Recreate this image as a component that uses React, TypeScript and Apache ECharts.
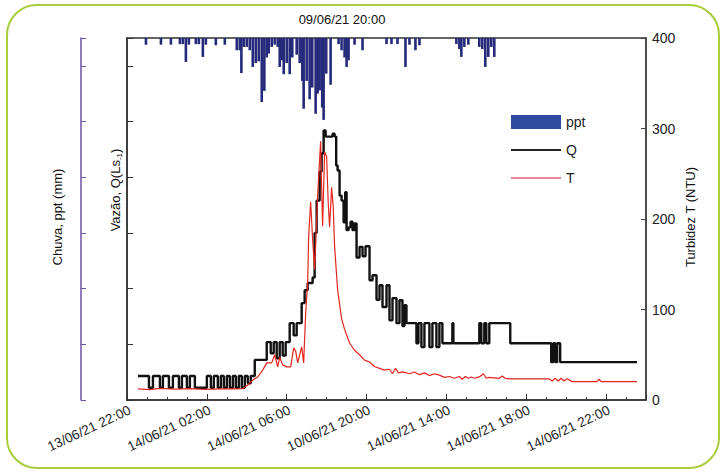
import React, { useEffect, useRef } from "react";
import * as echarts from "echarts";

const FONT = '"Liberation Sans", Arial, sans-serif';

// Hours since 13/06/21 22:00; major ticks every 4 h
const xTickLabels = [
  "13/06/21 22:00",
  "14/06/21 02:00",
  "14/06/21 06:00",
  "10/06/21 20:00",
  "14/06/21 14:00",
  "14/06/21 18:00",
  "14/06/21 22:00",
];

const turbidityTicks = [0, 100, 200, 300, 400];

// Rainfall (mm) per interval: [hour, ppt]
const pptData: [number, number][] = [
  [0.95, 0.12], [1.7, 0.12], [2.2, 0.12], [2.65, 0.11], [2.8, 0.11], [2.95, 0.43], [3.1, 0.12],
  [3.45, 0.11], [3.6, 0.11], [3.8, 0.34], [3.95, 0.12], [4.45, 0.13], [4.9, 0.12],
  [5.5, 0.22], [5.65, 0.22], [5.73, 0.63], [5.85, 0.16], [6.0, 0.16], [6.15, 0.22], [6.3, 0.52],
  [6.45, 0.45], [6.6, 0.42], [6.75, 1.15], [6.88, 0.95], [7.0, 0.35], [7.1, 0.28], [7.25, 0.16],
  [7.4, 0.12], [7.55, 0.16], [7.65, 0.52], [7.75, 0.4], [7.85, 0.65], [8.0, 0.45], [8.15, 0.65], [8.28, 0.35],
  [8.5, 0.3], [8.65, 0.45], [8.78, 0.77], [8.85, 1.27], [9.0, 0.77], [9.15, 1.1], [9.28, 0.89],
  [9.45, 1.36], [9.55, 1.0], [9.65, 0.94], [9.78, 1.25], [9.85, 1.47], [9.98, 0.64], [10.2, 0.84],
  [10.6, 0.11], [10.75, 0.22], [10.9, 0.35], [11.0, 0.52], [11.1, 0.4], [11.4, 0.12], [11.8, 0.22],
  [13.0, 0.11], [13.25, 0.11], [13.55, 0.11], [13.95, 0.52], [14.15, 0.12], [14.45, 0.22], [14.65, 0.13],
  [16.5, 0.11], [16.65, 0.2], [16.75, 0.34], [16.9, 0.16], [17.1, 0.12],
  [17.65, 0.16], [17.8, 0.2], [17.95, 0.52], [18.1, 0.34], [18.25, 0.16], [18.4, 0.34],
];

// Discharge Q: [hour, value] (stepped readings)
const qData: [number, number][] = [
  [0.55, 4.3], [1.1, 2.2], [1.3, 4.3], [1.65, 2.2], [1.8, 4.3], [2.1, 2.2], [2.3, 4.3], [2.6, 2.2],
  [2.75, 4.3], [3.0, 2.2], [3.15, 4.3], [3.4, 2.2], [4.0, 4.3], [4.2, 2.2], [4.35, 4.3], [4.55, 2.2],
  [4.7, 4.3], [4.85, 2.2], [5.0, 4.3], [5.15, 2.2], [5.3, 4.3], [5.45, 2.2], [5.6, 4.3], [5.75, 2.2],
  [5.9, 4.3], [6.05, 3.0], [6.2, 4.3], [6.4, 7.2], [7.0, 10.4], [7.2, 8.4], [7.35, 10.4], [7.5, 7.5],
  [7.65, 10.4], [7.8, 8.0], [7.95, 10.4], [8.15, 13.8], [8.35, 11.6], [8.5, 13.8], [8.75, 17.4],
  [8.9, 19.7], [9.05, 21.0], [9.3, 22.0], [9.4, 30.0], [9.5, 35.8], [9.65, 41.0], [9.75, 44.3],
  [9.85, 48.4], [9.95, 47.3], [10.3, 47.8], [10.4, 47.3], [10.48, 42.1], [10.55, 41.2], [10.65, 36.7],
  [10.75, 35.8], [10.85, 31.9], [10.93, 37.3], [11.0, 30.5], [11.1, 31.0], [11.2, 32.0], [11.3, 30.5],
  [11.4, 31.7], [11.5, 25.6], [11.65, 27.5], [11.8, 25.8], [11.95, 27.6], [12.15, 21.5], [12.3, 22.4],
  [12.5, 18.0], [12.65, 20.6], [12.8, 16.7], [13.0, 20.6], [13.15, 14.3], [13.3, 18.3], [13.5, 13.8],
  [13.65, 17.9], [13.8, 13.3], [13.9, 17.0], [14.0, 13.8], [14.5, 10.2], [14.6, 13.8], [14.75, 9.5],
  [14.9, 13.8], [15.15, 9.5], [15.3, 13.8], [15.5, 9.5], [15.65, 13.8], [15.8, 10.2], [16.3, 13.8],
  [16.35, 10.2], [17.65, 13.8], [17.75, 10.2], [17.9, 13.8], [18.0, 10.2], [18.15, 13.8], [19.2, 10.2],
  [21.25, 6.8], [21.35, 10.2], [21.45, 6.8], [21.55, 10.2], [21.7, 6.8], [25.55, 6.8],
];

// Turbidity T (NTU): [hour, value]
const tData: [number, number][] = [
  [0.55, 12.2], [1.15, 11.5], [1.65, 12.8], [2.4, 12.0], [3.15, 12.5], [3.9, 11.8], [4.65, 12.4],
  [5.4, 12.2], [5.8, 12.6], [6.05, 16.6], [6.3, 22], [6.55, 25.5], [6.8, 33], [7.0, 41], [7.25, 41],
  [7.4, 50], [7.55, 36.6], [7.65, 47], [7.8, 38.8], [8.0, 36.6], [8.2, 36.6], [8.35, 57.6], [8.45, 54],
  [8.55, 41], [8.75, 58.7], [8.85, 41], [8.95, 96], [9.05, 130], [9.1, 180], [9.2, 219], [9.3, 177],
  [9.4, 144], [9.55, 225], [9.7, 286], [9.75, 236], [9.8, 192], [9.9, 274], [10.0, 269], [10.08, 218],
  [10.15, 191], [10.25, 235], [10.33, 214], [10.4, 170], [10.55, 122], [10.75, 90], [10.9, 78],
  [11.15, 63], [11.4, 55], [11.65, 50], [11.9, 44], [12.15, 42], [12.4, 37], [12.65, 35], [12.9, 33],
  [13.15, 34], [13.3, 29], [13.45, 35], [13.6, 30], [13.8, 31], [14.15, 29], [14.4, 31], [14.65, 28],
  [14.9, 30], [15.15, 27], [15.4, 29], [15.65, 27.5], [15.9, 25], [16.15, 26], [16.4, 24], [16.65, 26],
  [16.8, 23], [16.95, 26], [17.1, 24], [17.25, 25.5], [17.4, 24], [17.65, 25.5], [17.85, 29], [18.0, 24],
  [18.15, 25], [18.4, 24.5], [18.65, 24], [18.8, 26.5], [18.95, 24], [19.2, 23.3], [21.15, 23.3],
  [21.3, 21], [21.45, 24], [21.6, 21], [21.75, 24], [21.9, 21], [22.05, 23.5], [22.3, 20.3],
  [23.55, 20.3], [23.65, 23], [23.75, 20.3], [25.55, 20.3],
];

export default function App() {
  const ref = useRef<HTMLDivElement>(null);

  useEffect(() => {
    if (!ref.current) return;
    const chart = echarts.init(ref.current, null, { renderer: "svg" });
    const axisColor = "#333";
    const purple = "#6B52A3";

    chart.setOption({
      animation: false,
      backgroundColor: "#fff",
      textStyle: { fontFamily: FONT },
      grid: {
        left: 127,
        top: 38,
        width: 519,
        height: 362,
        show: true,
        borderColor: axisColor,
        borderWidth: 1.5,
      },
      legend: {
        orient: "vertical",
        left: 510,
        top: 115,
        padding: 0,
        itemWidth: 50,
        itemHeight: 14,
        itemGap: 14,
        textStyle: { fontSize: 14, color: "#222", fontFamily: FONT },
        data: [
          { name: "ppt", icon: "rect", itemStyle: { color: "#2E4A9E" } },
          { name: "Q", itemStyle: { opacity: 0 }, lineStyle: { color: "#222", width: 2 } },
          { name: "T", itemStyle: { opacity: 0 }, lineStyle: { color: "#E06070", width: 1.5 } },
        ],
      },
      xAxis: {
        type: "value",
        min: 0,
        max: 26,
        interval: 4,
        axisLine: { show: true, lineStyle: { color: axisColor, width: 1.5 } },
        axisTick: { show: true, inside: true, length: 6, lineStyle: { color: axisColor } },
        minorTick: { show: true, splitNumber: 4, length: 3, lineStyle: { color: axisColor } },
        splitLine: { show: false },
        minorSplitLine: { show: false },
        axisLabel: {
          rotate: 25,
          fontSize: 13.5,
          color: "#222",
          margin: 3,
          verticalAlign: "top",
          fontFamily: FONT,
          formatter: (v: number) => xTickLabels[Math.round(v / 4)] ?? "",
        },
      },
      yAxis: [
        {
          type: "value",
          position: "left",
          min: 0,
          max: 65,
          interval: 10,
          axisLine: { show: true, lineStyle: { color: axisColor, width: 1.5 } },
          axisTick: { show: true, inside: true, length: 6, lineStyle: { color: axisColor } },
          axisLabel: { show: false },
          splitLine: { show: false },
        },
        {
          type: "value",
          position: "right",
          min: turbidityTicks[0],
          max: turbidityTicks[turbidityTicks.length - 1],
          interval: 100,
          axisLine: { show: true, lineStyle: { color: "#444", width: 1.5 } },
          axisTick: { show: true, inside: true, length: 5, lineStyle: { color: "#444" } },
          axisLabel: { fontSize: 14, color: "#222", margin: 6, fontFamily: FONT },
          splitLine: { show: false },
        },
        {
          type: "value",
          inverse: true,
          min: 0,
          max: 6.5,
          show: false,
        },
        {
          type: "value",
          position: "left",
          offset: 46,
          min: 0,
          max: 6.5,
          interval: 1,
          axisLine: { show: true, lineStyle: { color: purple, width: 1.5 } },
          axisTick: { show: true, inside: true, length: 5, lineStyle: { color: purple } },
          axisLabel: { show: false },
          splitLine: { show: false },
        },
      ],
      series: [
        {
          name: "ppt",
          type: "bar",
          xAxisIndex: 0,
          yAxisIndex: 2,
          barWidth: 2.6,
          itemStyle: { color: "#262A7A" },
          data: pptData,
          z: 2,
        },
        {
          name: "Q",
          type: "line",
          yAxisIndex: 0,
          step: "end",
          symbol: "none",
          lineStyle: { color: "#111", width: 2.4 },
          itemStyle: { color: "#111" },
          data: qData,
          z: 3,
        },
        {
          name: "T",
          type: "line",
          yAxisIndex: 1,
          symbol: "none",
          lineStyle: { color: "#E3251E", width: 1.2 },
          itemStyle: { color: "#E3251E" },
          data: tData,
          z: 4,
        },
      ],
      graphic: [
        {
          type: "rect",
          shape: { x: 7, y: 5, width: 712, height: 463, r: 30 },
          style: { fill: "none", stroke: "#A8CC3C", lineWidth: 2 },
          silent: true,
        },
        {
          type: "text",
          x: 342,
          y: 19,
          style: {
            text: "09/06/21 20:00",
            fontSize: 13,
            fontFamily: FONT,
            fill: "#111",
            align: "center",
            verticalAlign: "middle",
          },
        },
        {
          type: "text",
          x: 57,
          y: 217,
          rotation: Math.PI / 2,
          style: {
            text: "Chuva, ppt (mm)",
            fontSize: 13,
            fontFamily: FONT,
            fill: "#111",
            align: "center",
            verticalAlign: "middle",
          },
        },
        {
          type: "text",
          x: 115,
          y: 190,
          rotation: Math.PI / 2,
          style: {
            text: "{a|Vazão, Q(Ls}{s|-1}{a|)}",
            fontFamily: FONT,
            fill: "#111",
            align: "center",
            verticalAlign: "middle",
            rich: {
              a: { fontSize: 13, fontFamily: FONT, fill: "#111", lineHeight: 16 },
              s: { fontSize: 8, fontFamily: FONT, fill: "#111", lineHeight: 16, verticalAlign: "bottom" },
            },
          },
        },
        {
          type: "text",
          x: 690,
          y: 217,
          rotation: Math.PI / 2,
          style: {
            text: "Turbidez T (NTU)",
            fontSize: 13,
            fontFamily: FONT,
            fill: "#111",
            align: "center",
            verticalAlign: "middle",
          },
        },
      ],
    });

    return () => chart.dispose();
  }, []);

  return (
    <div
      ref={ref}
      style={{ position: "absolute", left: 0, top: 0, width: 725, height: 475 }}
    />
  );
}
